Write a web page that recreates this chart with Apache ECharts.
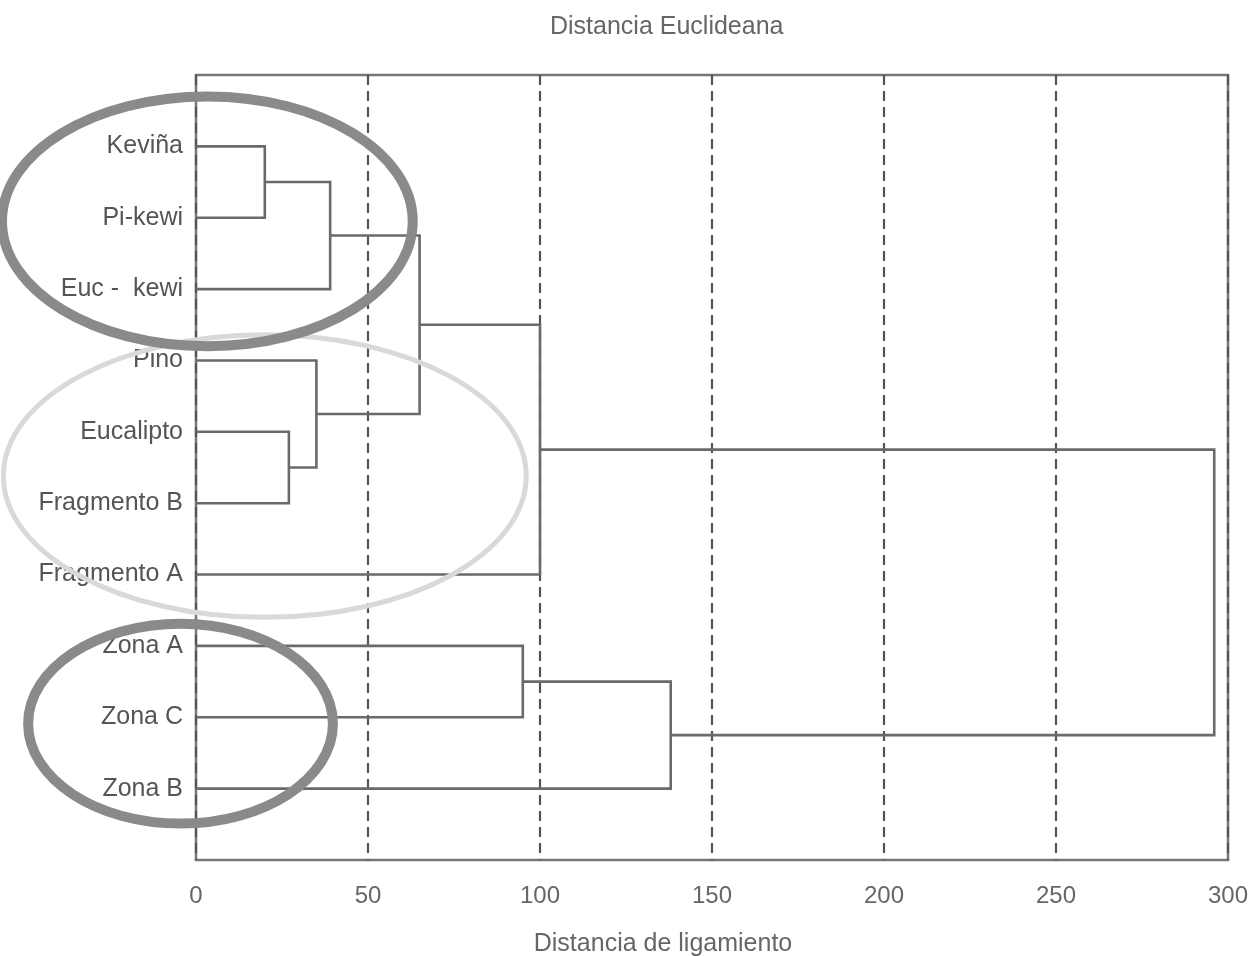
<!DOCTYPE html>
<html lang="es">
<head>
    <meta charset="utf-8">
    <title>Distancia Euclideana</title>
    <script src="https://cdn.jsdelivr.net/npm/echarts@6/dist/echarts.min.js"></script>
    <style>
        html, body { margin: 0; padding: 0; background: #fff; }
        #chart { width: 1253px; height: 956px; }
    </style>
</head>
<body>
<div id="chart"></div>
<script>
    // hojas del dendrograma (de arriba a abajo)
    var leafNames = ['Keviña', 'Pi-kewi', 'Euc -  kewi', 'Pino', 'Eucalipto',
        'Fragmento B', 'Fragmento A', 'Zona A', 'Zona C', 'Zona B'];
    // uniones: ids 0-9 = hojas, 10+ = grupos formados en orden
    var mergeLeft   = [0, 10, 4, 3, 11, 14, 7, 16, 15];
    var mergeRight  = [1, 2, 5, 12, 13, 6, 8, 9, 17];
    var mergeHeight = [20, 39, 27, 35, 65, 100, 95, 138, 296];
    var xTicks = [0, 50, 100, 150, 200, 250, 300];

    // grupos marcados con elipses (centro x, centro y, radio x, radio y en unidades de datos)
    var groupEllipses = [
        [20, 4.62, 76, 1.98],
        [3.3, 1.05, 59.7, 1.75],
        [-4.5, 8.09, 44.3, 1.4]
    ];
    var ellipseColors = ['#d9d9d9', '#8a8a8a', '#8a8a8a'];
    var ellipseWidths = [5, 10, 10];

    // posición (x, y) de cada nodo
    var nodeX = [], nodeY = [];
    for (var i = 0; i < leafNames.length; i++) { nodeX.push(0); nodeY.push(i); }
    var links = [];
    for (var k = 0; k < mergeHeight.length; k++) {
        var a = mergeLeft[k], b = mergeRight[k], h = mergeHeight[k];
        links.push({coords: [[nodeX[a], nodeY[a]], [h, nodeY[a]], [h, nodeY[b]], [nodeX[b], nodeY[b]]]});
        nodeX.push(h);
        nodeY.push((nodeY[a] + nodeY[b]) / 2);
    }

    var chart = echarts.init(document.getElementById('chart'));
    chart.setOption({
        backgroundColor: '#fff',
        animation: false,
        title: {
            text: 'Distancia Euclideana',
            left: 545,
            top: 10,
            textStyle: {fontFamily: 'Liberation Sans', fontSize: 25, fontWeight: 'normal', color: '#666'}
        },
        grid: {
            left: 196, right: 25, top: 75, bottom: 96,
            outerBoundsMode: 'none',
            show: true, borderColor: '#777', borderWidth: 2.5, backgroundColor: 'transparent'
        },
        xAxis: {
            type: 'value',
            min: 0, max: 300, interval: 50,
            name: 'Distancia de ligamiento',
            nameLocation: 'middle',
            nameGap: 72,
            nameTextStyle: {fontFamily: 'Liberation Sans', fontSize: 25, color: '#666', padding: [0, 98, 0, 0]},
            axisLine: {show: false},
            axisTick: {show: false},
            axisLabel: {
                margin: 24,
                fontFamily: 'Liberation Sans', fontSize: 24, color: '#666',
                formatter: function (v) { return xTicks.indexOf(v) >= 0 ? String(v) : ''; }
            },
            splitLine: {
                show: true,
                lineStyle: {color: '#555', width: 2.2, type: [10, 6]}
            }
        },
        yAxis: {
            type: 'value',
            min: -1, max: 10, interval: 1,
            inverse: true,
            axisLine: {show: false},
            axisTick: {show: false},
            splitLine: {show: false},
            axisLabel: {
                margin: 13,
                fontFamily: 'Liberation Sans', fontSize: 25, color: '#555',
                formatter: function (v) { return leafNames[v] || ''; }
            }
        },
        series: [
            {
                type: 'lines',
                coordinateSystem: 'cartesian2d',
                polyline: true,
                silent: true,
                lineStyle: {color: '#6a6a6a', width: 2.6, opacity: 1},
                data: links,
                z: 3
            },
            {
                type: 'custom',
                silent: true,
                clip: false,
                data: groupEllipses,
                renderItem: function (params, api) {
                    var c = api.coord([api.value(0), api.value(1)]);
                    var e = api.coord([api.value(0) + api.value(2), api.value(1) + api.value(3)]);
                    var idx = params.dataIndex;
                    return {
                        type: 'ellipse',
                        shape: {cx: c[0], cy: c[1], rx: Math.abs(e[0] - c[0]), ry: Math.abs(e[1] - c[1])},
                        style: {fill: 'none', stroke: ellipseColors[idx], lineWidth: ellipseWidths[idx]}
                    };
                },
                z: 5
            }
        ]
    });
</script>
</body>
</html>
